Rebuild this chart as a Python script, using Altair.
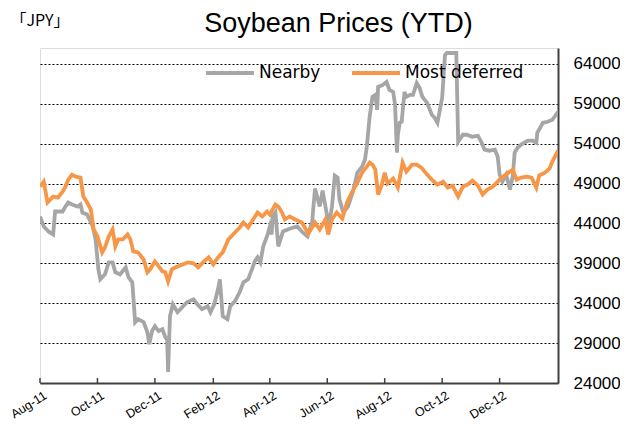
import altair as alt
import pandas as pd

chart_title = "Soybean Prices (YTD)"
unit_label = "「JPY」"
series_names = ["Nearby", "Most deferred"]
series_colors = ["#A6A6A6", "#F79646"]
start_date = "2011-08-01"

# days since 2011-08-01 and prices (JPY)
nearby_day = [0, 4, 9, 14, 16, 24, 27, 30, 34, 40,
              43, 45, 50, 56, 59, 62, 64, 69, 73, 77,
              80, 85, 91, 94, 98, 101, 104, 110, 114, 116,
              119, 122, 126, 130, 133, 135, 136, 138, 141, 146,
              151, 156, 163, 167, 172, 178, 181, 185, 189, 191,
              194, 199, 202, 207, 212, 216, 221, 225, 228, 231,
              234, 237, 241, 244, 246, 247, 250, 253, 258, 263,
              269, 273, 279, 284, 289, 292, 295, 297, 300, 305,
              306, 310, 313, 316, 318, 322, 327, 332, 337, 342,
              345, 347, 350, 353, 356, 358, 359, 364, 368, 371,
              375, 377, 379, 380, 382, 384, 387, 389, 393, 396,
              400, 403, 406, 411, 416, 419, 422, 427, 430, 432,
              442, 444, 449, 453, 459, 465, 469, 472, 477, 483,
              486, 488, 491, 495, 499, 502, 504, 507, 512, 518,
              523, 527, 528, 534, 539, 544, 550]
nearby_val = [44875, 43625, 43000, 42625, 45500, 45500, 46125, 46625, 46375, 46125,
              46375, 45375, 45125, 43625, 42000, 38250, 37000, 37625, 39125, 39125,
              37875, 37625, 38500, 37250, 36625, 31625, 32000, 31625, 30375, 28875,
              30500, 31125, 30500, 30750, 29750, 29500, 25375, 32375, 33875, 32875,
              33500, 34125, 34500, 33875, 33250, 33625, 32875, 33875, 35750, 37000,
              32375, 32000, 33625, 34250, 35375, 36625, 37000, 38250, 39250, 39750,
              39125, 41125, 42375, 43625, 42625, 44875, 45375, 41125, 43000, 43250,
              43500, 43625, 42875, 42375, 44250, 48375, 47000, 46125, 48125, 44875,
              43250, 46125, 50000, 49750, 47000, 45375, 46125, 47875, 50375, 51125,
              52000, 53625, 57375, 59875, 60125, 58250, 61125, 61375, 61750, 60750,
              60500, 58875, 52875, 55125, 56625, 56750, 60500, 59875, 60125, 60125,
              61625, 61000, 59875, 59125, 57625, 57250, 56625, 59750, 65125, 65375,
              65375, 54250, 55125, 55125, 54875, 55000, 54125, 53250, 53125, 53250,
              52375, 50125, 49250, 50125, 48250, 50000, 52875, 53500, 54000, 54375,
              54375, 54125, 55375, 56625, 56750, 57000, 58000]

deferred_day = [0, 4, 8, 14, 19, 24, 27, 30, 34, 38,
                43, 46, 50, 54, 57, 61, 66, 69, 73, 77,
                80, 83, 88, 93, 96, 99, 104, 110, 114, 117,
                122, 126, 130, 133, 136, 140, 144, 147, 152, 157,
                163, 168, 173, 179, 184, 189, 194, 200, 205, 212,
                216, 221, 225, 231, 236, 241, 244, 250, 253, 257,
                260, 265, 271, 278, 285, 292, 297, 303, 306, 310,
                315, 321, 326, 331, 337, 342, 347, 350, 353, 356,
                359, 363, 366, 369, 375, 380, 385, 389, 395, 400,
                405, 411, 416, 422, 428, 433, 438, 444, 449, 454,
                459, 465, 470, 475, 481, 488, 493, 499, 502, 506,
                511, 517, 522, 527, 530, 536, 541, 544, 550]
deferred_val = [48625, 49250, 46625, 47375, 47250, 48000, 48625, 49500, 50125, 49875,
                49750, 47375, 46625, 45750, 43250, 42375, 40375, 41000, 42375, 43250,
                41125, 42000, 42000, 42625, 42000, 40500, 40375, 39500, 37875, 38250,
                39250, 38625, 38000, 37875, 36750, 38250, 38500, 38625, 38875, 39125,
                39000, 38500, 39125, 39750, 38875, 39750, 40375, 42000, 42625, 43500,
                44125, 43500, 44250, 45375, 44875, 45500, 45125, 46375, 46125, 45375,
                44500, 44875, 44500, 44125, 42750, 44125, 43250, 44500, 42625, 44500,
                45375, 44625, 46625, 47875, 49125, 50375, 51125, 51625, 51375, 50750,
                47625, 48875, 50375, 49000, 49625, 48500, 51625, 50500, 51375, 51375,
                51000, 50125, 49500, 48875, 49250, 48500, 48750, 47375, 48625, 48875,
                49375, 48750, 47625, 48250, 48625, 49500, 50000, 50500, 50750, 49500,
                49750, 49875, 49750, 48500, 50000, 50375, 50875, 51750, 53125]

y_ticks = [24000, 29000, 34000, 39000, 44000, 49000, 54000, 59000, 64000]
x_tick_dates = ["2011-08-01", "2011-10-01", "2011-12-01", "2012-02-01", "2012-04-01",
                "2012-06-01", "2012-08-01", "2012-10-01", "2012-12-01"]
x_domain = ["2011-08-01", "2013-02-01"]


def to_dates(days):
    return (pd.Timestamp(start_date) + pd.to_timedelta(days, unit="D")).strftime("%Y-%m-%d").tolist()


def dt(s):
    return alt.DateTime(year=int(s[:4]), month=int(s[5:7]), date=int(s[8:]), utc=True)


df = pd.concat([
    pd.DataFrame({"date": to_dates(nearby_day), "price": nearby_val, "series": series_names[0]}),
    pd.DataFrame({"date": to_dates(deferred_day), "price": deferred_val, "series": series_names[1]}),
], ignore_index=True)

ticks_df = pd.DataFrame({"date": x_tick_dates})

x_enc = alt.X(
    "date:T",
    scale=alt.Scale(type="utc", domain=[dt(x_domain[0]), dt(x_domain[1])]),
    axis=alt.Axis(
        values=[dt(s) for s in x_tick_dates], format="%b-%y",
        title=chart_title, titleX=298, titleY=-352, titleAlign="center",
        titleBaseline="alphabetic", titleFont="Liberation Sans", titleFontSize=27,
        titleFontWeight="normal", titleColor="black",
        labelAngle=328, labelAlign="right", labelBaseline="middle",
        labelFont="Liberation Sans", labelFontSize=12.5, labelColor="black",
        labelPadding=11, labelOffset=5, labelOverlap=False, labelFlush=False, labelBound=False,
        ticks=False, tickSize=0, grid=False, domainColor="#404040", domainWidth=2,
    ),
)

lines = alt.Chart(df).mark_line(strokeWidth=3.8, clip=True).encode(
    x=x_enc,
    y=alt.Y(
        "price:Q",
        scale=alt.Scale(domain=[24000, 66000], nice=False, zero=False),
        axis=alt.Axis(
            orient="right", values=y_ticks, format="d",
            title=unit_label, titleAngle=0, titleX=-548, titleY=-23,
            titleAlign="left", titleBaseline="alphabetic",
            titleFont="Noto Sans CJK JP", titleFontSize=16, titleFontWeight="normal",
            titleColor="black",
            labelFont="Liberation Sans", labelFontSize=17, labelColor="black",
            labelPadding=15, labelFlush=False, labelOverlap=False,
            ticks=False, tickSize=0, domain=True, domainColor="#404040", domainWidth=2,
            grid=True, gridColor="black", gridDash=[2, 2], gridWidth=1,
        ),
    ),
    color=alt.Color(
        "series:N",
        scale=alt.Scale(domain=series_names, range=series_colors),
        legend=alt.Legend(
            title=None, orient="none", legendX=164, legendY=-1,
            direction="horizontal", columns=2,
            symbolType="stroke", symbolSize=2304, symbolStrokeWidth=4,
            labelFont="DejaVu Sans", labelFontSize=17, labelColor="black",
            labelOffset=3, columnPadding=23, padding=0,
        ),
    ),
)

tick_marks = alt.Chart(ticks_df).mark_rule(color="#404040", strokeWidth=1.5).encode(
    x=alt.X("date:T"),
    y=alt.value(335),
    y2=alt.value(330),
)

chart = alt.layer(lines, tick_marks).properties(
    width=518,
    height=335,
    padding={"left": 32, "top": 40, "right": 62, "bottom": 40},
    autosize=alt.AutoSizeParams(type="none"),
).configure_view(stroke="#8c8c8c", strokeWidth=2).configure(background="white")

chart.save("out.html", embed_options={"renderer": "svg", "actions": False})
